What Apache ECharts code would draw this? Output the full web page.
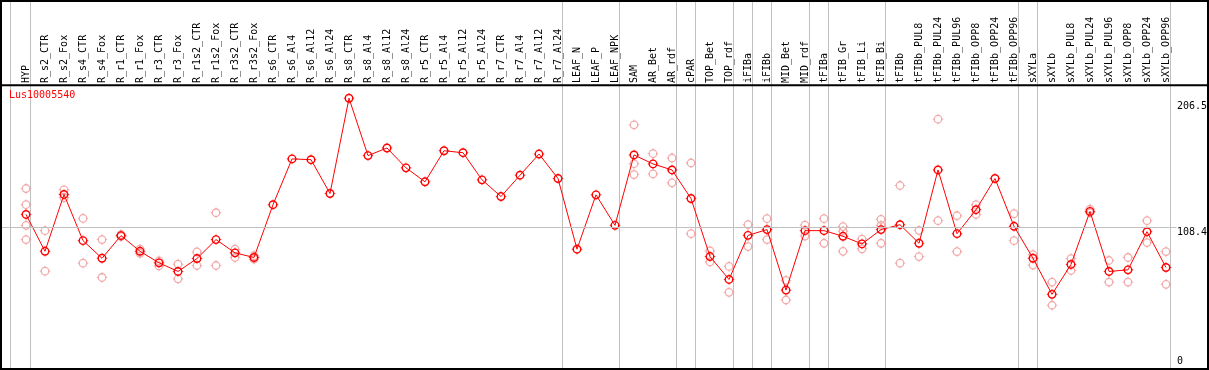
<!DOCTYPE html>
<html><head><meta charset="utf-8">
<script src="https://cdn.jsdelivr.net/npm/echarts@6/dist/echarts.min.js"></script>
<style>html,body{margin:0;padding:0;background:#fff}#c{width:1209px;height:370px}</style>
</head><body><div id="c"></div>
<script>
const geneId = 'Lus10005540';
const categories = ['HYP','R_s2_CTR','R_s2_Fox','R_s4_CTR','R_s4_Fox','R_r1_CTR','R_r1_Fox','R_r3_CTR','R_r3_Fox','R_r1s2_CTR','R_r1s2_Fox','R_r3s2_CTR','R_r3s2_Fox','R_s6_CTR','R_s6_Al4','R_s6_Al12','R_s6_Al24','R_s8_CTR','R_s8_Al4','R_s8_Al12','R_s8_Al24','R_r5_CTR','R_r5_Al4','R_r5_Al12','R_r5_Al24','R_r7_CTR','R_r7_Al4','R_r7_Al12','R_r7_Al24','LEAF_N','LEAF_P','LEAF_NPK','SAM','AR_Bet','AR_rdf','cPAR','TOP_Bet','TOP_rdf','iFIBa','iFIBb','MID_Bet','MID_rdf','tFIBa','tFIB_Gr','tFIB_Li','tFIB_Bi','tFIBb','tFIBb_PUL8','tFIBb_PUL24','tFIBb_PUL96','tFIBb_OPP8','tFIBb_OPP24','tFIBb_OPP96','sXYLa','sXYLb','sXYLb_PUL8','sXYLb_PUL24','sXYLb_PUL96','sXYLb_OPP8','sXYLb_OPP24','sXYLb_OPP96'];
const means = [118.2,90.2,133.4,98.3,84.9,102.1,90.2,81.4,74.9,84.7,99.1,89.0,85.5,125.6,160.4,159.8,134.1,206.5,162.9,168.7,153.6,143.0,166.6,165.1,144.5,131.8,148.0,164.1,145.5,91.8,133.1,109.9,163.4,156.6,152.0,130.3,86.2,68.8,102.3,106.7,60.7,105.9,105.9,101.6,95.8,106.7,110.4,96.3,152.0,103.6,121.8,145.5,109.2,84.9,57.5,80.2,120.5,74.9,76.1,105.1,77.9];
const replicates = [
  [137.9,125.6,109.9,99.1],[105.9,75.1],[136.9,130.9],[115.2,81.2],[99.1,70.3],[102.9,101.4],[91.8,88.7],[82.9,79.1],[80.4,69.3],[89.7,79.4],
  [119.5,79.4],[91.8,85.5],[86.8,84.2],[],[],[],[],[],[],[],
  [],[],[],[],[],[],[],[],[],[],
  [],[],[186.3,156.8,148.5],[164.4,149.0],[161.1,142.2],[157.3,103.6],[90.5,82.1],[78.7,59.0],[110.4,93.8],[115.0,99.1],
  [68.1,53.2],[110.1,101.8],[115.0,96.3],[109.0,105.5,90.2],[99.5,92.1],[114.4,109.9,96.3],[140.2,81.2],[106.1,86.2],[190.6,113.5],[117.2,90.0],
  [125.6,118.2],[],[118.8,98.3],[87.7,79.7],[66.8,49.2],[84.7,75.6],[122.2,119.5],[83.2,66.8],[85.5,66.8],[113.5,96.8],
  [90.0,65.1]
];
const yTickLabels = [0, 108.4, 206.5];
const refLine = 108.4;
const groupEnds = [-1, 0, 28, 31, 34, 35, 37, 38, 39, 41, 42, 45, 52, 53, 60];

const FONT = 'DejaVu Sans Mono';
const RED = '#ff0000', PINK = '#f09898', GRAY = '#c0c0c0';
const xMin = -25/19, xMax = xMin + 1207/19;
const tickSym = 'path://M5 0L5 1.6M5 8.4L5 10M0 5L1.6 5M8.4 5L10 5';

const repData = replicates.flatMap((arr, i) => arr.map(v => [i, v]));
const meanData = means.map((v, i) => [i, v]);
const sepX = groupEnds.map(g => g < 0 ? g + 0.17 : g + 0.23);

function ticks(data, color, z) {
  return {type: 'scatter', xAxisIndex: 0, yAxisIndex: 0, z: z, silent: true, data: data,
    symbol: tickSym, symbolSize: 10.5, symbolKeepAspect: true,
    itemStyle: {color: 'rgba(0,0,0,0)', borderColor: color, borderWidth: 1}};
}

const chart = echarts.init(document.getElementById('c'), null, {renderer: 'canvas'});
const option = {
  animation: false,
  backgroundColor: '#fff',
  title: {text: geneId, left: 9, top: 90, padding: 0,
    textStyle: {fontSize: 10, fontFamily: FONT, fontWeight: 'normal', color: RED}},
  grid: [
    {left: 1, right: 1, top: 86, bottom: -1.3},
    {left: 1, right: 1, top: 0, bottom: 2}
  ],
  xAxis: [
    {type: 'value', gridIndex: 0, position: 'top', min: xMin, max: xMax,
     axisLine: {show: false}, axisTick: {show: false}, splitLine: {show: false},
     axisLabel: {customValues: categories.map((c, i) => i), formatter: v => categories[Math.round(v)] || '',
       rotate: 90, margin: 3, fontSize: 10, fontFamily: FONT, color: '#000'}},
    {type: 'value', gridIndex: 1, min: xMin, max: xMax, show: false}
  ],
  yAxis: [
    {type: 'value', gridIndex: 0, min: 0, max: 215.8, show: false},
    {type: 'value', gridIndex: 1, min: 0, max: 1, show: false}
  ],
  series: [
    {type: 'scatter', xAxisIndex: 0, yAxisIndex: 0, z: 2, data: repData,
     symbol: 'circle', symbolSize: 7.5,
     itemStyle: {color: 'rgba(0,0,0,0)', borderColor: PINK, borderWidth: 1.3},
     markLine: {silent: true, symbol: 'none', label: {show: false},
       lineStyle: {color: GRAY, type: 'solid', width: 1},
       data: [[{coord: [xMin, refLine]}, {coord: [60.55, refLine]}]]}},
    ticks(repData, PINK, 2),
    {type: 'line', xAxisIndex: 0, yAxisIndex: 0, z: 3, data: meanData,
     symbol: 'circle', symbolSize: 7.5, showAllSymbol: true,
     lineStyle: {color: RED, width: 1},
     itemStyle: {color: 'rgba(0,0,0,0)', borderColor: RED, borderWidth: 1.4}},
    ticks(meanData, RED, 4)
  ],
  graphic: [
    {id: 'frame', type: 'rect', shape: {x: 1, y: 1, width: 1207, height: 368}, z: 100,
     style: {fill: 'none', stroke: '#000', lineWidth: 2}},
    {id: 'sep', type: 'line', shape: {x1: 0, y1: 85.3, x2: 1209, y2: 85.3}, z: 100,
     style: {stroke: '#000', lineWidth: 2}}
  ]
};
chart.setOption(option);
const extra = [];
sepX.forEach((x, k) => {
  const px = Math.round(chart.convertToPixel({xAxisIndex: 1}, x)) + 0.5;
  const top = chart.convertToPixel({yAxisIndex: 1}, 1), bottom = chart.convertToPixel({yAxisIndex: 1}, 0);
  extra.push({id: 'vsep' + k, type: 'line', z: -1, silent: true,
    shape: {x1: px, y1: top, x2: px, y2: bottom}, style: {stroke: GRAY, lineWidth: 1}});
});
yTickLabels.forEach((v, k) => {
  const py = chart.convertToPixel({yAxisIndex: 0}, v);
  extra.push({id: 'ylab' + k, type: 'text', x: 1177, y: Math.min(py + (v > refLine ? 3 : 0), 356), z: 100,
    style: {text: String(v), fontSize: 10, fontFamily: FONT, fill: '#000', textVerticalAlign: 'top'}});
});
chart.setOption({graphic: extra});
</script>
</body></html>
